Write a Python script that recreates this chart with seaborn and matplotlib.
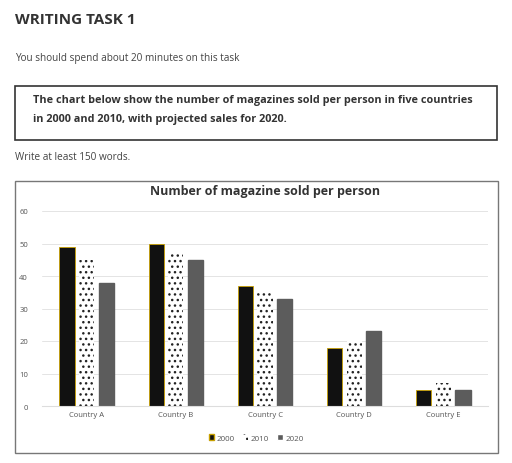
import matplotlib
matplotlib.use("Agg")
import matplotlib.pyplot as plt
import seaborn as sns
import pandas as pd
from matplotlib.patches import Rectangle, Patch

countries = ["Country A", "Country B", "Country C", "Country D", "Country E"]
years = ["2000", "2010", "2020"]
v2000 = [49, 50, 37, 18, 5]
v2010 = [45, 47, 35, 20, 7]
v2020 = [38, 45, 33, 23, 5]

rows = []
for y, vals in zip(years, [v2000, v2010, v2020]):
    for c, v in zip(countries, vals):
        rows.append({"country": c, "year": y, "value": v})
df = pd.DataFrame(rows)

sns.set_style("white")
plt.rcParams['font.family'] = ['Open Sans', 'DejaVu Sans']
fig = plt.figure(figsize=(5.12, 4.64), dpi=100)

W, H = 512, 464
def fx(x): return x / W
def fy(y): return 1 - y / H

fig.text(fx(15), fy(20), "WRITING TASK 1", fontsize=11, fontweight="bold", color="#333333", va="center")
fig.text(fx(15), fy(58), "You should spend about 20 minutes on this task", fontsize=7.2, color="#444444", va="center")
fig.patches.append(Rectangle((fx(15), fy(141)), fx(497) - fx(15), fy(87) - fy(141),
                             transform=fig.transFigure, fill=False, edgecolor="#333333", lw=1.2))
fig.text(fx(33), fy(101), "The chart below show the number of magazines sold per person in five countries",
         fontsize=7.8, fontweight="bold", color="#333333", va="center")
fig.text(fx(33), fy(120), "in 2000 and 2010, with projected sales for 2020.",
         fontsize=7.8, fontweight="bold", color="#333333", va="center")
fig.text(fx(15), fy(158), "Write at least 150 words.", fontsize=7.2, color="#444444", va="center")
fig.patches.append(Rectangle((fx(15), fy(454)), fx(498) - fx(15), fy(182) - fy(454),
                             transform=fig.transFigure, fill=False, edgecolor="#777777", lw=1))

ax = fig.add_axes([fx(42), fy(407), fx(488) - fx(42), fy(212) - fy(407)])
palette = {"2000": "#111111", "2010": "#ffffff", "2020": "#5c5c5c"}
sns.barplot(data=df, x="country", y="value", hue="year", palette=palette, ax=ax,
            width=0.66, gap=0.22, legend=False)
for bar_container, yr in zip(ax.containers, years):
    for p in bar_container:
        if yr == "2000":
            p.set_edgecolor("#c8a000"); p.set_linewidth(0.6)
        elif yr == "2010":
            p.set_hatch("..."); p.set_edgecolor("#222222"); p.set_linewidth(0)
        else:
            p.set_edgecolor("#5c5c5c")
ax.set_ylim(0, 60)
ax.set_yticks(range(0, 61, 10))
ax.grid(axis="y", color="#e4e4e4", lw=0.7)
ax.set_axisbelow(True)
for s in ["top", "right", "left"]:
    ax.spines[s].set_visible(False)
ax.spines["bottom"].set_color("#dddddd")
ax.set_xlabel(""); ax.set_ylabel("")
ax.tick_params(axis="both", labelsize=5.5, colors="#555555", length=0)
ax.tick_params(axis="y", pad=10)
ax.set_title("Number of magazine sold per person", fontsize=9, fontweight="bold", color="#333333", pad=12)

handles = [Patch(facecolor="#111111", edgecolor="#c8a000"),
           Patch(facecolor="white", hatch="...", edgecolor="#222222", lw=0),
           Patch(facecolor="#5c5c5c")]
fig.legend(handles, years, loc="center", bbox_to_anchor=(fx(256), fy(439)), ncol=3, frameon=False,
           fontsize=5.8, handlelength=0.7, handleheight=0.7, handletextpad=0.3, columnspacing=1.0,
           labelcolor="#555555")

fig.savefig("out.png", dpi=100)
